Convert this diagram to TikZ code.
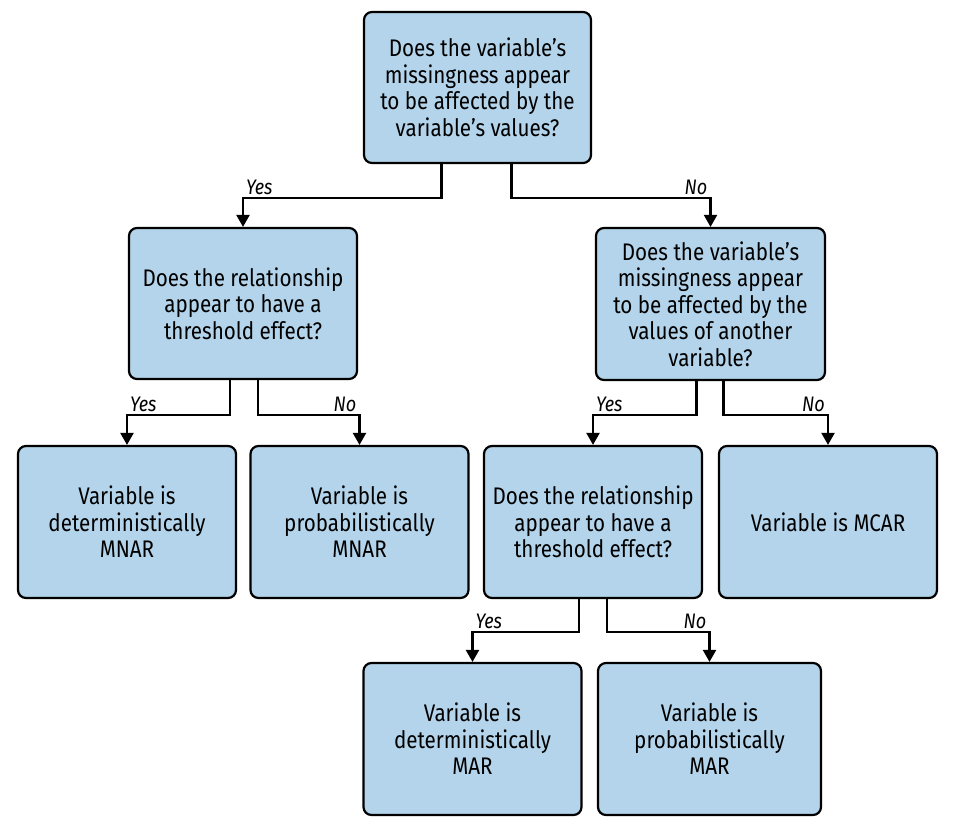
\documentclass[tikz,border=0pt]{standalone}
\usepackage{fontspec}
\setmainfont{Fira Sans}[FakeStretch=0.86]
\usetikzlibrary{positioning,arrows.meta}
\definecolor{boxblue}{HTML}{B3D4EA}

\begin{document}
\begin{tikzpicture}[x=1pt,y=-1pt,
  box/.style={draw,rounded corners=8pt,line width=2.2pt,fill=boxblue,minimum width=218pt,
    minimum height=152pt,align=center,font=\fontsize{24}{26.5}\selectfont},
  arr/.style={line width=2.2pt,-{Triangle[width=13pt,length=12pt]}},
  lbl/.style={font=\fontsize{21}{23}\selectfont\itshape,inner sep=2pt}]
  \useasboundingbox (0,0) rectangle (955,831);
  % questions
  \node[box,minimum width=227pt,minimum height=151pt] (q1) at (477.5,87.5)
    {Does the variable's\\missingness appear\\to be affected by the\\variable's values?};
  \node[box,minimum width=228pt,minimum height=151pt] (q2) at (243,303.5)
    {Does the relationship\\appear to have a\\threshold effect?};
  \node[box,minimum width=229pt] (q3) at (710.5,304)
    {Does the variable's\\missingness appear\\to be affected by the\\values of another\\variable?};
  \node[box] (q4) at (593,522)
    {Does the relationship\\appear to have a\\threshold effect?};
  % results
  \node[box] (mnarDet) at (127,522) {Variable is\\deterministically\\MNAR};
  \node[box] (mnarProb) at (359.5,522) {Variable is\\probabilistically\\MNAR};
  \node[box] (mcar) at (828,522) {Variable is MCAR};
  \node[box] (marDet) at (472.5,739) {Variable is\\deterministically\\MAR};
  \node[box,minimum width=223pt] (marProb) at (709.5,739) {Variable is\\probabilistically\\MAR};

  \draw[arr] ([xshift=-36pt]q1.south) -- ++(0,34) -| node[pos=0.5,lbl,above right] {Yes} (q2.north);
  \draw[arr] ([xshift=34pt]q1.south) -- ++(0,34) -| node[pos=0.5,lbl,above left] {No} (q3.north);
  \draw[arr] ([xshift=-13pt]q2.south) -- ++(0,35) -| node[pos=0.5,lbl,above right] {Yes} (mnarDet.north);
  \draw[arr] ([xshift=15pt]q2.south) -- ++(0,35) -| node[pos=0.5,lbl,above left] {No} (mnarProb.north);
  \draw[arr] ([xshift=-14pt]q3.south) -- ++(0,34) -| node[pos=0.5,lbl,above right] {Yes} (q4.north);
  \draw[arr] ([xshift=13pt]q3.south) -- ++(0,34) -| node[pos=0.5,lbl,above left] {No} (mcar.north);
  \draw[arr] ([xshift=-14pt]q4.south) -- ++(0,33) -| node[pos=0.5,lbl,above right] {Yes} (marDet.north);
  \draw[arr] ([xshift=14pt]q4.south) -- ++(0,33) -| node[pos=0.5,lbl,above left] {No} (marProb.north);
\end{tikzpicture}
\end{document}
